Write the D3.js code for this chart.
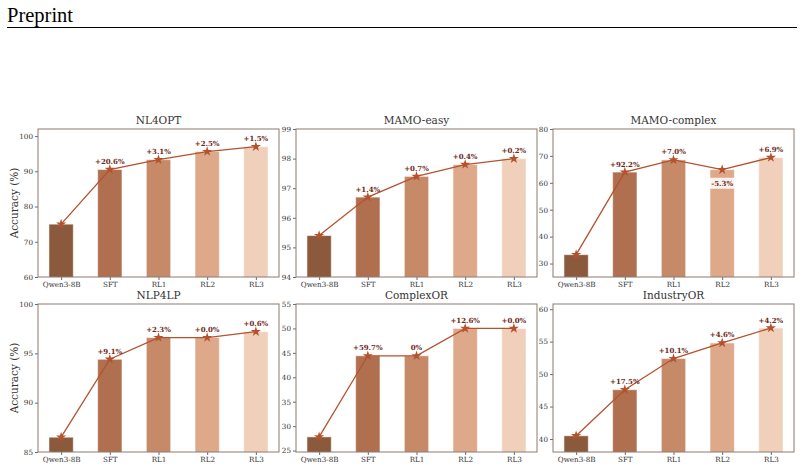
<!DOCTYPE html>
<html><head><meta charset="utf-8">
<script src="https://cdn.jsdelivr.net/npm/d3@7"></script>
<style>body{margin:0;background:#fff}svg{display:block}</style>
</head><body>
<script>
const categories = ["Qwen3-8B","SFT","RL1","RL2","RL3"];
const titles = ["NL4OPT","MAMO-easy","MAMO-complex","NLP4LP","ComplexOR","IndustryOR"];
const nl4opt = [75.0, 90.5, 93.3, 95.6, 97.0];
const mamoEasy = [95.4, 96.7, 97.4, 97.8, 98.0];
const mamoComplex = [33.3, 64.0, 68.5, 64.9, 69.4];
const nlp4lp = [86.5, 94.4, 96.6, 96.6, 97.2];
const complexOR = [27.8, 44.4, 44.4, 50.0, 50.0];
const industryOR = [40.5, 47.6, 52.4, 54.8, 57.1];
const nl4optLabels = ["", "+20.6%", "+3.1%", "+2.5%", "+1.5%"];
const mamoEasyLabels = ["", "+1.4%", "+0.7%", "+0.4%", "+0.2%"];
const mamoComplexLabels = ["", "+92.2%", "+7.0%", "-5.3%", "+6.9%"];
const nlp4lpLabels = ["", "+9.1%", "+2.3%", "+0.0%", "+0.6%"];
const complexORLabels = ["", "+59.7%", "0%", "+12.6%", "+0.0%"];
const industryORLabels = ["", "+17.5%", "+10.1%", "+4.6%", "+4.2%"];
const nl4optTicks = [60, 70, 80, 90, 100];
const mamoEasyTicks = [94, 95, 96, 97, 98, 99];
const mamoComplexTicks = [30, 40, 50, 60, 70, 80];
const nlp4lpTicks = [85, 90, 95, 100];
const complexORTicks = [25, 30, 35, 40, 45, 50, 55];
const industryORTicks = [40, 45, 50, 55, 60];
const yDomains = [[60, 102], [94, 99], [25, 80], [85, 100], [24.7, 55], [38, 60.8]];

const values = [nl4opt, mamoEasy, mamoComplex, nlp4lp, complexOR, industryOR];
const labels = [nl4optLabels, mamoEasyLabels, mamoComplexLabels, nlp4lpLabels, complexORLabels, industryORLabels];
const ticks = [nl4optTicks, mamoEasyTicks, mamoComplexTicks, nlp4lpTicks, complexORTicks, industryORTicks];

const barColors = ["#8b5a3c", "#b0704f", "#c78a69", "#dea98a", "#f0d0ba"];
const lineColor = "#b4522f";
const labelColor = "#6e2a1a";
const spineColor = "#8c7b73";
const font = "DejaVu Serif";

const W = 804, H = 470;
const svg = d3.select("body").append("svg").attr("width", W).attr("height", H);

// header
svg.append("text").attr("x", 7).attr("y", 22).attr("font-family", "Liberation Serif")
  .attr("font-size", 20.5).attr("fill", "#000").text("Preprint");
svg.append("line").attr("x1", 7).attr("x2", 797).attr("y1", 27.5).attr("y2", 27.5)
  .attr("stroke", "#000").attr("stroke-width", 1.1);

const colX = [38, 296, 553];
const rowY = [129, 304];
const pw = 241, ph = 148;

values.forEach((vals, i) => {
  const col = i % 3, row = Math.floor(i / 3);
  const g = svg.append("g").attr("transform", `translate(${colX[col]},${rowY[row]})`);
  const x = d3.scaleLinear().domain([-0.475, 4.475]).range([0, pw]);
  const y = d3.scaleLinear().domain(yDomains[i]).range([ph, 0]);
  const bw = x(0.5) - x(0);

  g.append("defs").append("clipPath").attr("id", "clip" + i)
    .append("rect").attr("width", pw).attr("height", ph);
  const body = g.append("g").attr("clip-path", `url(#clip${i})`);

  body.selectAll("rect.bar").data(vals).join("rect").attr("class", "bar")
    .attr("x", (d, j) => x(j) - bw / 2)
    .attr("width", bw)
    .attr("y", d => y(d))
    .attr("height", d => ph - y(d) + 2)
    .attr("fill", (d, j) => barColors[j])
    .attr("stroke", "#fff").attr("stroke-opacity", 0.55).attr("stroke-width", 1);

  const line = d3.line().x((d, j) => x(j)).y(d => y(d));
  g.append("path").datum(vals).attr("d", line).attr("fill", "none")
    .attr("stroke", lineColor).attr("stroke-width", 1.3);
  g.selectAll("path.star").data(vals).join("path").attr("class", "star")
    .attr("transform", (d, j) => `translate(${x(j)},${y(d)})`)
    .attr("d", d3.symbol().type(d3.symbolStar).size(32))
    .attr("fill", lineColor);

  // annotations
  labels[i].forEach((t, j) => {
    if (!t) return;
    const px = x(j), py = y(vals[j]);
    if (t.startsWith("-")) {
      const ty = py + 16;
      const tt = g.append("text").attr("x", px).attr("y", ty).attr("text-anchor", "middle")
        .attr("font-family", font).attr("font-size", 7).attr("font-weight", "bold")
        .attr("fill", labelColor).text(t);
      const bb = tt.node().getBBox();
      g.insert("rect", () => tt.node()).attr("x", bb.x - 2).attr("y", bb.y - 1)
        .attr("width", bb.width + 4).attr("height", bb.height + 2)
        .attr("fill", "#fff").attr("fill-opacity", 0.85).attr("rx", 1.5);
    } else {
      g.append("text").attr("x", px).attr("y", py - 5.5).attr("text-anchor", "middle")
        .attr("font-family", font).attr("font-size", 7).attr("font-weight", "bold")
        .attr("fill", labelColor).text(t);
    }
  });

  // axes
  const ya = g.append("g").call(d3.axisLeft(y).tickValues(ticks[i]).tickSize(3).tickPadding(2).tickFormat(d3.format("d")));
  const xa = g.append("g").attr("transform", `translate(0,${ph})`)
    .call(d3.axisBottom(x).tickValues([0, 1, 2, 3, 4]).tickSize(3).tickPadding(2).tickFormat(j => categories[j]));
  [ya, xa].forEach(a => {
    a.select(".domain").remove();
    a.selectAll("line").attr("stroke", "#444").attr("stroke-width", 0.8);
    a.selectAll("text").attr("font-family", font).attr("font-size", 7.2).attr("fill", "#333");
  });
  g.append("rect").attr("width", pw).attr("height", ph).attr("fill", "none")
    .attr("stroke", spineColor).attr("stroke-width", 1);

  g.append("text").attr("x", pw / 2).attr("y", -5).attr("text-anchor", "middle")
    .attr("font-family", font).attr("font-size", 10.5).attr("font-weight", "normal")
    .attr("fill", "#333").text(titles[i]);

  if (col === 0) {
    g.append("text").attr("transform", `translate(-20,${ph / 2}) rotate(-90)`)
      .attr("text-anchor", "middle").attr("font-family", font).attr("font-size", 10.5)
      .attr("fill", "#333").text("Accuracy (%)");
  }
});
</script>
</body></html>
